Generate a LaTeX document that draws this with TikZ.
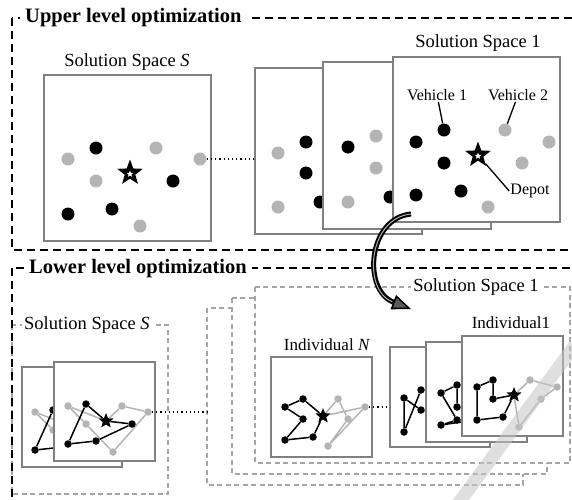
\documentclass[tikz,border=0pt]{standalone}
\usepackage{fontspec}
\setmainfont{Liberation Serif}
\usetikzlibrary{shapes.geometric,arrows.meta}
\definecolor{boxgray}{RGB}{128,128,128}
\definecolor{dotgray}{RGB}{180,180,180}
\definecolor{dashgray}{RGB}{165,165,165}
\definecolor{headgray}{RGB}{90,90,90}
\newcommand\lowroute[1]{%
  \node[sstar] (#1s) at (106,421) {};
  \node[sgd] (#1q1) at (68,406) {};
  \node[sgd] (#1q2) at (86,424) {};
  \node[sgd] (#1q3) at (122,406) {};
  \node[sgd] (#1q4) at (148,412) {};
  \node[sgd] (#1q5) at (113,452) {};
  \draw[groute] (#1s) -- (#1q3) -- (#1q4) -- (#1q5) -- (#1q2) -- (#1q1) -- (#1s);
  \node[sbd] (#1p1) at (86,404) {};
  \node[sbd] (#1p2) at (132,424) {};
  \node[sbd] (#1p3) at (96,441) {};
  \node[sbd] (#1p4) at (68,444) {};
  \draw[broute] (#1s) -- (#1p2) -- (#1p3) -- (#1p4) -- (#1p1) -- (#1s);
}
\begin{document}
\begin{tikzpicture}[x=1pt,y=-1pt,
  frame/.style={draw=black, line width=2.6pt, dash pattern=on 8pt off 5pt},
  gframe/.style={draw=dashgray, line width=1.6pt, dash pattern=on 5pt off 3.5pt, fill=white},
  sbox/.style={draw=boxgray, line width=2.6pt, fill=white, inner sep=0pt},
  bd/.style={circle, fill=black, inner sep=0pt, minimum size=13pt},
  gd/.style={circle, fill=dotgray, inner sep=0pt, minimum size=13pt},
  sbd/.style={circle, fill=black, inner sep=0pt, minimum size=7.5pt},
  sgd/.style={circle, fill=dotgray, inner sep=0pt, minimum size=7.5pt},
  bstar/.style={star, star points=5, star point ratio=2.4, fill=black, inner sep=0pt, minimum size=27pt},
  wstar/.style={star, star points=5, star point ratio=2.3, fill=white, inner sep=0pt, minimum size=7pt},
  sstar/.style={star, star points=5, star point ratio=2.3, fill=black, inner sep=0pt, minimum size=16pt},
  broute/.style={draw=black, line width=1.5pt},
  groute/.style={draw=dotgray, line width=1.5pt},
  dots/.style={draw=black, line width=1.2pt, dash pattern=on 1.2pt off 3pt},
  ttl/.style={font=\fontsize{20.5}{23}\selectfont\bfseries, fill=white, inner ysep=3pt, inner xsep=5pt, anchor=west},
  lab/.style={font=\fontsize{18.5}{21}\selectfont, inner sep=1pt},
  glab/.style={font=\fontsize{18.5}{21}\selectfont, inner sep=2pt, fill=white},
  smal/.style={font=\fontsize{16}{18}\selectfont, inner sep=1pt},
  ind/.style={font=\fontsize{17}{19}\selectfont, inner sep=1pt},
]
\useasboundingbox (0,0) rectangle (572,499);
\clip (0,0) rectangle (572,499);
\fill[white] (0,0) rectangle (572,499);

% ---------- lower gray dashed boxes ----------
\draw[gframe] (12,325) rectangle (168,494);
\draw[gframe] (207,308) rectangle (523,485);
\draw[gframe] (232,298) rectangle (547,474);
\draw[gframe] (255,287) rectangle (570,463);

% ---------- black frames ----------
\draw[frame] (12,18) rectangle (580,250);
\draw[frame] (12,268) rectangle (580,512);
\node[ttl] (upt) at (20,18) {Upper level optimization};
\node[ttl] (lot) at (24,269) {Lower level optimization};

% ---------- upper level ----------
\node[sbox, minimum width=167pt, minimum height=166pt] (uS) at (127.5,158) {};
\node[lab] (uSl) at (127,62) {Solution Space \textit{S}};
\node[gd] (us1) at (68,159) {};
\node[bd] (us2) at (96,148) {};
\node[gd] (us3) at (156,148) {};
\node[gd] (us4) at (200,159) {};
\node[gd] (us5) at (96,181) {};
\node[bd] (us7) at (173,181) {};
\node[bd] (us8) at (68,214) {};
\node[bd] (us9) at (112,209) {};
\node[gd] (us10) at (140,226) {};
\node[bstar] (usst) at (130,173) {};
\node[wstar] (usw) at (130,174) {};

\node[sbox, minimum width=167pt, minimum height=166pt] (bA) at (338.5,151) {};
\draw[dots] (us4) -- (us4 -| bA.west);
\node[gd] (a1) at (278,153) {};
\node[bd] (a2) at (306,142) {};
\node[bd] (a3) at (306,173) {};
\node[gd] (a4) at (278,207) {};
\node[bd] (a5) at (320,202) {};

\node[sbox, minimum width=168pt, minimum height=167pt] (bB) at (407,145.5) {};
\node[bd] (b1) at (348,147) {};
\node[gd] (b2) at (376,136) {};
\node[gd] (b3) at (376,168) {};
\node[gd] (b4) at (348,202) {};
\node[bd] (b5) at (390,197) {};

\node[sbox, minimum width=167pt, minimum height=165pt] (bC) at (476.5,139.5) {};
\node[lab] (bCl) at (478,43) {Solution Space 1};
\node[bd] (c1) at (416,142) {};
\node[bd] (c2) at (444,130) {};
\node[gd] (c3) at (505,130) {};
\node[gd] (c4) at (549,142) {};
\node[bd] (c5) at (444,163) {};
\node[gd] (c7) at (522,163) {};
\node[bd] (c8) at (461,191) {};
\node[bd] (c9) at (416,195) {};
\node[gd] (c10) at (488,207) {};
\node[bstar] (cst) at (478,155) {};
\node[wstar] (cw) at (478,156) {};
\node[smal] (v1) at (437,95) {Vehicle 1};
\node[smal] (v2) at (518,95) {Vehicle 2};
\node[smal] (dep) at (530,191) {Depot};
\draw[line width=1.3pt] (v1) -- (c2);
\draw[line width=1.3pt] (v2) -- (c3);
\draw[line width=1.3pt] (cst) -- (dep.west);

% ---------- curved arrow ----------
\coordinate (arS) at (411,214);
\coordinate (arE) at (411,309);
\draw[line width=5pt, -{Triangle[length=19pt,width=15pt,fill=headgray,line width=1.6pt]}]
  (arS) .. controls (368,218) and (362,290) .. (arE);
\draw[gray!60, line width=1pt, shorten >=20pt] (arS) .. controls (368,218) and (362,290) .. (arE);

% ---------- lower level : solution space S ----------
\node[glab, anchor=west] (lSl) at (22,325) {Solution Space \textit{S}};
\node[sbox, minimum width=100pt, minimum height=100pt] (L1) at (72,417) {};
\begin{scope}[shift={(-33,6)}]
  \lowroute{L1}
\end{scope}
\node[sbox, minimum width=101pt, minimum height=99pt] (L2) at (104.5,411.5) {};
\lowroute{L2}
\draw[dots] (L2q4) -- (L2q4 -| 207,0);

% ---------- solution space 1 (lower) ----------
\node[glab] (s1l) at (476,287) {Solution Space 1};
\node[ind] (inl) at (327,345) {Individual \textit{N}};
\node[sbox, minimum width=101pt, minimum height=100pt] (IN) at (321.5,407) {};
\node[sstar] (ist) at (323,416) {};
\node[sgd] (ib1) at (338,399) {};
\node[sgd] (ib2) at (365,407) {};
\node[sgd] (ib3) at (348,419) {};
\node[sgd] (ib4) at (328,446) {};
\draw[groute] (ist) -- (ib1) -- (ib3) -- (ib4) -- (ib2) -- (ist);
\node[sbd] (ia1) at (285,407) {};
\node[sbd] (ia2) at (303,399) {};
\node[sbd] (ia3) at (303,419) {};
\node[sbd] (ia4) at (285,440) {};
\node[sbd] (ia5) at (313,437) {};
\draw[broute] (ist) -- (ia2) -- (ia1) -- (ia3) -- (ia4) -- (ia5) -- (ist);

\node[sbox, minimum width=100pt, minimum height=100pt] (R1) at (440,397) {};
\draw[dots] (ib2) -- (ib2 -| R1.west);
\node[sbd] (r1a) at (404,398) {};
\node[sbd] (r1b) at (421,390) {};
\node[sbd] (r1c) at (421,410) {};
\node[sbd] (r1d) at (404,432) {};
\coordinate (r1e) at (445,418);
\draw[broute] (r1a) -- (r1d) -- (r1b);
\draw[broute] (r1a) -- (r1c) -- (r1e);

\node[sbox, minimum width=101pt, minimum height=100pt] (R2) at (476.5,392) {};
\node[sbd] (r2a) at (441,393) {};
\node[sbd] (r2b) at (457,385) {};
\node[sbd] (r2c) at (457,407) {};
\node[sbd] (r2d) at (441,425) {};
\node[sbd] (r2e) at (457,420) {};
\coordinate (r2f) at (475,420);
\coordinate (r2g) at (475,412);
\draw[broute] (r2a) -- (r2b) -- (r2c) -- (r2g);
\draw[broute] (r2a) -- (r2e) -- (r2d) -- (r2f);

\node[sbox, minimum width=101pt, minimum height=100pt] (R3) at (512.5,386) {};
\node[ind] (i1l) at (511,323) {Individual1};
\node[sstar] (rst) at (514,395) {};
\node[sgd] (e1) at (530,380) {};
\node[sgd] (e2) at (557,387) {};
\node[sgd] (e3) at (541,399) {};
\node[sgd] (e4) at (519,427) {};
\draw[groute] (rst) -- (e1) -- (e2) -- (e3) -- (e4) -- (rst);
\node[sbd] (d1) at (477,387) {};
\node[sbd] (d2) at (493,380) {};
\node[sbd] (d3) at (493,399) {};
\node[sbd] (d4) at (477,420) {};
\node[sbd] (d5) at (503,417) {};
\draw[broute] (rst) -- (d3) -- (d2) -- (d1) -- (d4) -- (d5) -- (rst);

% ---------- watermark band ----------
\draw[line width=13pt, gray!45, opacity=0.55] (452,512) -- (575,345);
\end{tikzpicture}
\end{document}
